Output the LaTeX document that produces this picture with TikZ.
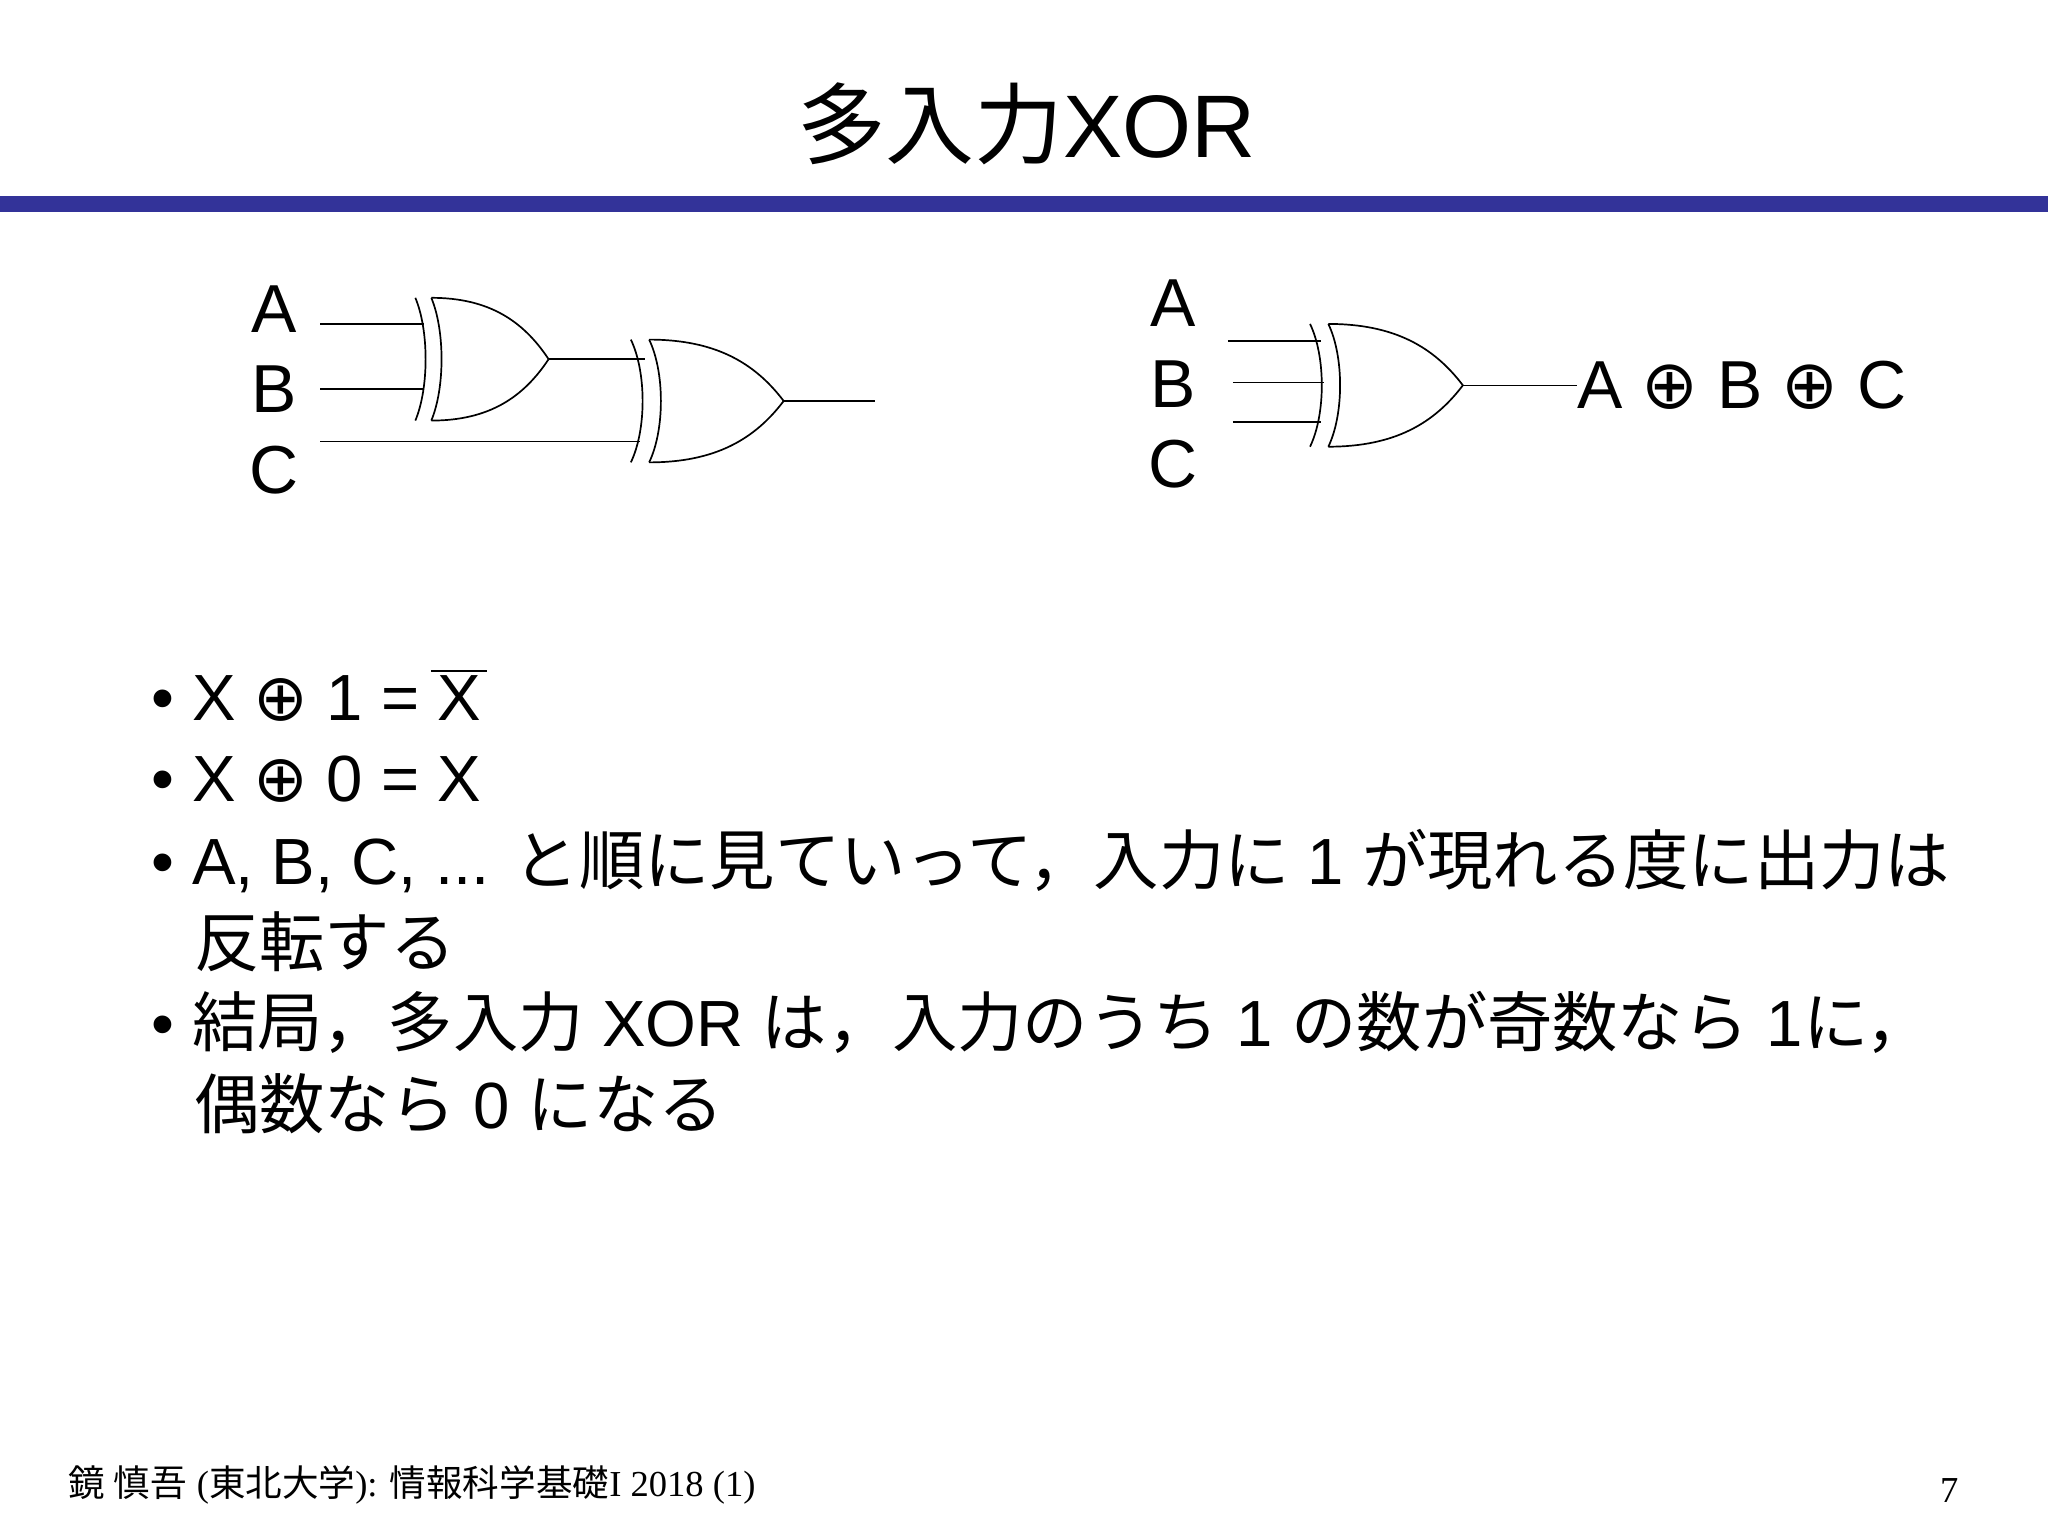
\documentclass[tikz,border=0pt]{standalone}
\usepackage{fontspec}
\setmainfont{Liberation Sans}
\newfontfamily\cjk{Noto Sans CJK JP}
\newfontfamily\tms{Liberation Serif}
\newfontfamily\djvfont{DejaVu Sans}
\newcommand{\J}[1]{{\cjk #1}}
\newcommand{\ox}{{\djvfont ⊕}}
\newcommand{\ovl}[1]{\setbox0\hbox{#1}\rlap{\hspace{-0.1em}\raisebox{1.1\ht0}{\rule{\dimexpr\wd0+0.2em\relax}{1.2pt}}}#1}
\begin{document}
\begin{tikzpicture}[x=1pt,y=-1pt,line width=1.3pt,
  lbl/.style={font=\fontsize{52}{60}\selectfont},
  body/.style={font=\fontsize{50}{58}\selectfont,anchor=base west,inner sep=0},
  wire/.style={line width=1.2pt},
  xorg/.pic={
    \draw (0,0) .. controls (12,25) and (12,69) .. (0,94);
    \draw (14,0) .. controls (26,25) and (26,69) .. (14,94);
    \draw (14,0) .. controls (65,0) and (95,18) .. (117,47);
    \draw (14,94) .. controls (65,94) and (95,76) .. (117,47);
    \coordinate (-out) at (117,47);
  }]
\useasboundingbox (0,0) rectangle (1568,1176);
\fill[white] (0,0) rectangle (1568,1176);
\node (title) at (786,95) {\fontsize{68}{74}\selectfont\J{多入力}XOR};
\fill[color={rgb,255:red,51;green,51;blue,153}] (0,150) rectangle (1568,162);
% left circuit
\pic[xscale=0.872] (g1) at (318,228) {xorg};
\pic (g2) at (483,260) {xorg};
\node[lbl] (la) at (210,237) {A};
\node[lbl] (lb) at (210,298) {B};
\node[lbl] (lc) at (210,360) {C};
\coordinate (a1) at (245,248); \coordinate (a2) at (325,248);
\coordinate (b1) at (245,298); \coordinate (b2) at (325,298);
\coordinate (c1) at (245,338); \coordinate (c2) at (490,338);
\coordinate (m2) at (494,275);
\coordinate (o1) at (670,307);
\draw[wire] (a1) -- (a2); \draw[wire] (b1) -- (b2); \draw[wire] (c1) -- (c2);
\draw[wire] (g1-out) -- (m2);
\draw[wire] (g2-out) -- (o1);
% right circuit
\pic (g3) at (1003,248) {xorg};
\node[lbl] (ra) at (898,232) {A};
\node[lbl] (rb) at (898,294) {B};
\node[lbl] (rc) at (898,355) {C};
\coordinate (p1) at (940,261); \coordinate (p2) at (1011,261);
\coordinate (q1) at (944,293); \coordinate (q2) at (1014,293);
\coordinate (r1) at (944,323); \coordinate (r2) at (1011,323);
\draw[wire] (p1) -- (p2); \draw[wire] (q1) -- (q2); \draw[wire] (r1) -- (r2);
\node[lbl,anchor=west,inner sep=0] (res) at (1207,295) {A \ox{} B \ox{} C};
\draw[wire] (g3-out) -- (res.west);
% bullets
\node[body] (t1) at (115,552) {• X \ox{} 1 = \ovl{X}};
\node[body] (t2) at (115,614) {• X \ox{} 0 = X};
\node[body] (t3) at (115,677) {• A, B, C, ... \J{と順に見ていって，入力に} 1 \J{が現れる度に出力は}};
\node[body] (t4) at (148,740) {\J{反転する}};
\node[body] (t5) at (115,801) {• \J{結局，多入力} XOR \J{は，入力のうち} 1 \J{の数が奇数なら} 1\J{に，}};
\node[body] (t6) at (148,864) {\J{偶数なら} 0 \J{になる}};
% footer
\node[anchor=base west,inner sep=0,font=\fontsize{28}{32}\selectfont] (ft) at (52,1146) {\J{鏡 慎吾} \tms(\J{東北大学}): \J{情報科学基礎}I 2018 (1)};
\node[anchor=base east,inner sep=0,font=\tms\fontsize{28}{32}\selectfont] (pg) at (1500,1150) {7};
\end{tikzpicture}
\end{document}
